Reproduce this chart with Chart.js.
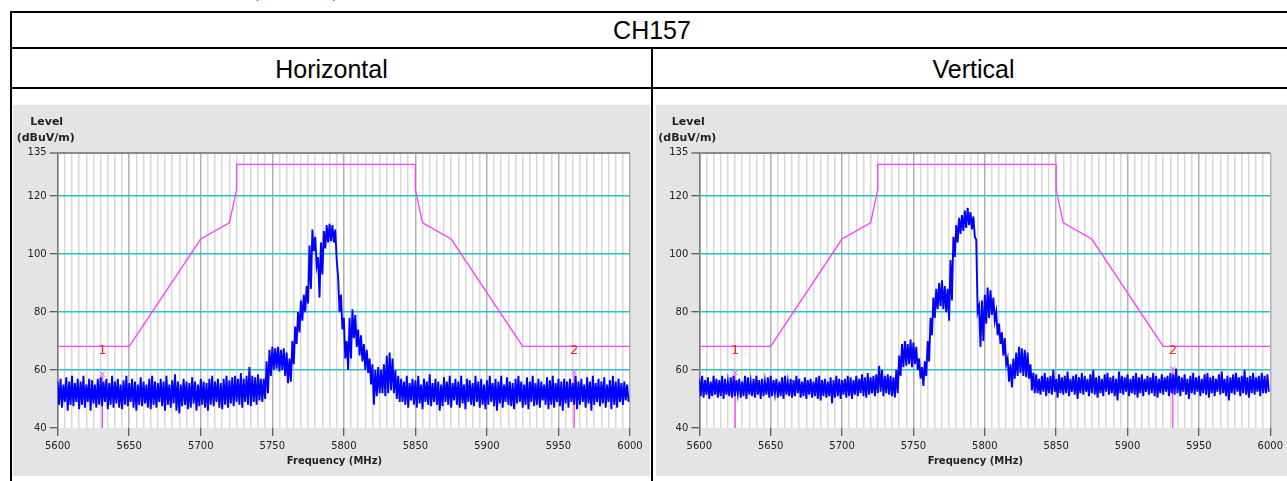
<!DOCTYPE html>
<html><head><meta charset="utf-8">
<script src="https://cdn.jsdelivr.net/npm/chart.js@4.4.1/dist/chart.umd.min.js"></script>
<style>
html,body{margin:0;padding:0;background:#fff;width:1287px;height:481px;overflow:hidden;position:relative;font-family:"Liberation Sans",Arial,sans-serif;}
.abs{position:absolute;}
.hl{position:absolute;background:#000;height:2px;}
.vl{position:absolute;background:#000;width:2px;}
.cap{position:absolute;text-align:center;font-size:25px;color:#000;white-space:nowrap;}
canvas{position:absolute;background:#e4e4e4;}
</style></head><body>
<div class="abs" style="left:253px;top:-17px;font-size:17px;color:#3b6fe0;">(continued)</div>
<div class="hl" style="left:10px;top:11px;width:1290px"></div>
<div class="hl" style="left:10px;top:47px;width:1290px"></div>
<div class="hl" style="left:10px;top:87px;width:1290px"></div>
<div class="vl" style="left:10px;top:11px;height:480px"></div>
<div class="vl" style="left:651px;top:47px;height:440px"></div>
<div class="cap" style="left:12px;top:13px;width:1280px;height:34px;line-height:34px;">CH157</div>
<div class="cap" style="left:12px;top:50px;width:639px;height:38px;line-height:38px;">Horizontal</div>
<div class="cap" style="left:653px;top:50px;width:641px;height:38px;line-height:38px;">Vertical</div>
<canvas id="cH" width="637" height="371" style="left:13px;top:105px;"></canvas>
<canvas id="cV" width="631" height="371" style="left:656px;top:105px;"></canvas>
<script>
// ---------- data ----------
const freqMin = 5600, freqMax = 6000, levelMin = 40, levelMax = 135;
const binStep = 2; // MHz per envelope bin (hi point at f, lo point at f+1)
const yTicks = [40, 60, 80, 100, 120, 135];
const xLabelStep = 50, xGridStep = 5;

const limitFreq  = [5600, 5650, 5700, 5720, 5725, 5725, 5850, 5850, 5855, 5875, 5925, 6000];
const limitLevel = [68.2, 68.2, 105.2, 110.8, 122.2, 131, 131, 122.2, 110.8, 105.2, 68.2, 68.2];

// Horizontal trace envelope
const hFloor1Start = 5600;
const hFloor1Hi = [56,57,55,57.5,56,58,55.5,57,56,58,
  55,57,56.5,55,57,57.5,56,57,55.5,58,
  56,57,55,56.5,58,55.5,57,56,55,57.5,
  56,55,57,58,56,55.5,57,56,58,55,
  56.5,58.5,56,55,57,56,55.5,57.5,56,55,
  57,56,55.5,57,58,56,57,55.5,57,58,
  56.5,57.5,58,57,59,57,58,61,58,57.5,
  58.5,57,57];
const hFloor1Lo = [48,47,49,46,48,47.5,49,46.5,48,47,
  49,46,48.5,47,48,47.5,49,46.5,48,47,
  48.5,47,46.5,48,47.5,49,47,46,48,47.5,
  48.5,47,46.5,48,47,49,47.5,46,48,47,
  48.5,46,45,47.5,48,46.5,47,48.5,46,47.5,
  48,47,46,48,47.5,49,47,46.5,48,47,
  48.5,47.5,49,48,47,49,48,47.5,49,48,
  49.5,49,50];
const hSignalStart = 5746;
const hSignalHi = [63,67,68,67.5,68,67,67.5,66,64,70,
  75,80,84,86,89,103,108.5,106,99,104,
  108,110,110.5,110,108.5,92,86,78,70,78,
  81,79,74,72,69,67,64,62,60,61,
  60,62,65,66,64,60,58];
const hSignalLo = [52,58,60,60.5,59.5,60,58,55.5,56,62,
  69,73,77,80,83,88,101,96,85,93,
  102,104,104.5,104,98,80,74,64,60,64,
  71,68,65,63,60,59,55,48,51,52,
  52,51,52,53,52,50,49];
const hFloor2Start = 5840;
const hFloor2Hi = [57,56,58,55.5,57,56.5,58,55,57,56,
  58.5,55.5,57,56,55,57.5,56,58,55.5,57,
  56,58,55,57,56.5,55.5,58,56,57,55,
  56.5,58,55.5,57,56,58,55,57.5,56,55.5,
  57,58,56,55,57.5,56,58,55.5,57,56,
  55,57.5,56.5,58,55.5,57,56,57,56,57,
  55.5,58,56,57,55,57.5,56,58,55.5,57,
  56,57.5,55,56.5,58,56,57,55.5,56,55];
const hFloor2Lo = [49,48,47,49.5,48,47,48.5,46.5,49,48,
  47.5,49,48,46,47.5,49,48,47,49.5,48,
  47,48.5,46.5,49,48,47.5,49,47,48,46.5,
  48,49,47.5,46,48.5,47,49,48,47.5,46.5,
  48.5,49,47,48,46.5,49,47.5,48,47,49.5,
  48,46.5,48,47,49,47.5,46,48.5,47,49,
  48,46.5,48,49,47,48.5,46,48,49,47.5,
  48.5,47,49,46.5,48,47,49,48,49.5,49];

// Vertical trace envelope
const vFloor1Start = 5600;
const vFloor1Hi = [57,58,56.5,57.5,56,58,57,56.5,58,57,
  56,57.5,58,56.5,57,56,58,57.5,56,57,
  58,56.5,57,56,57.5,58,56.5,57,56,57.5,
  58,56,57,56.5,58,57,56,57.5,56.5,57,
  56,57.5,58,56.5,57,56,57.5,56.5,58,57,
  56.5,57,58,57.5,56.5,58,57,58.5,57.5,59,
  57.5,58,58.5,61.5,60,58,58.5,58,57.5];
const vFloor1Lo = [51,50.5,51.5,50,51,51.5,50.5,51,50,51.5,
  51,50.5,51,52,50.5,51,50,51.5,51,50.5,
  51.5,50,51,51.5,50.5,51,52,50.5,51,50,
  51.5,51,50.5,51,52,50.5,51,50,51.5,50.5,
  51,50,49.5,51,50.5,51,48.5,50.5,51,50,
  51.5,50.5,51,50,51.5,51,52,51,50.5,51.5,
  52,51,52,52.5,51,52,51.5,51,50.5];
const vSignalStart = 5738;
const vSignalHi = [60,65,69,70,69,70.5,69.5,68,64,61,
  63,70,78,85,88,90,91,89,88,98,
  106,110,112.5,113.5,115,116,114.5,113,105,82,
  84,86,88.5,87.5,85,80,76,73,71,64,
  62,64,66,68,67.5,67,66,62,59];
const vSignalLo = [52,58,61,61.5,62,61,62,60,57,54.5,
  58,63,72,78,81,82,81,80,77,84,
  99,104,107,108,109,110,108.5,106,80,68,
  70,76,78,79,77,72,69,65,62,56,
  54,57,58,59,58,57.5,57,53,52];
const vFloor2Start = 5836;
const vFloor2Hi = [58.5,57,58,59,57.5,58,60,57,58.5,57.5,
  58,59.5,57,58,58.5,57.5,59,58,57,58.5,
  60,57.5,58,57,58.5,59,57.5,58,57,59.5,
  58,57.5,58.5,57,58,59,57.5,58.5,57,58,
  57.5,59,58,57,58.5,57.5,58,59,58.5,60.5,
  58,57.5,58.5,57,58,59,57.5,58,57,58.5,
  59,57.5,58,57,58.5,59.5,57,58,57.5,58.5,
  59,57.5,58,60,57.5,58,59,57.5,58,59,
  58,58.5];
const vFloor2Lo = [52,51.5,52.5,51,52,51.5,52.5,50.5,52,51.5,
  52,51,52.5,51.5,50,52,51.5,52.5,51,52,
  51.5,50.5,52,51,52.5,51.5,52,51,49.5,52,
  51.5,52.5,51,52,51.5,50.5,52,51,52.5,51.5,
  52,51,50.5,52,51.5,52.5,51,52,51.5,52,
  51,52.5,51.5,50,52,51.5,52.5,51,52,51.5,
  50.5,52,51,52.5,51.5,52,51,49.5,52,51.5,
  52.5,51,52,51.5,50.5,52,51.5,52.5,51,52,
  52,52.5];

const markerLabels = ['1', '2'];
const hMarkerFreq = [5631.2, 5961], hMarkerLevel = [58.6, 59.2];
const vMarkerFreq = [5625.1, 5931.7], vMarkerLevel = [59.0, 60.4];

// ---------- build ----------
function envelope(start, hi, lo) {
  const pts = [];
  const n = Math.min(hi.length, lo.length);
  for (let i = 0; i < n; i++) {
    const f = start + i * binStep;
    pts.push({x: f, y: hi[i]});
    pts.push({x: f + binStep / 2, y: lo[i]});
  }
  return pts;
}
const hTrace = [].concat(envelope(hFloor1Start, hFloor1Hi, hFloor1Lo),
  envelope(hSignalStart, hSignalHi, hSignalLo), envelope(hFloor2Start, hFloor2Hi, hFloor2Lo));
const vTrace = [].concat(envelope(vFloor1Start, vFloor1Hi, vFloor1Lo),
  envelope(vSignalStart, vSignalHi, vSignalLo), envelope(vFloor2Start, vFloor2Hi, vFloor2Lo));
const limitPts = limitFreq.map((f, i) => ({x: f, y: limitLevel[i]}));
const xGrid = [];
for (let f = freqMin; f <= freqMax; f += xGridStep) xGrid.push(f);

const MAG = '#ff3cff';
const LABEL_LEVEL = 66.6;

function makeChart(id, trace, mFreq, mLevel, yW, padR) {
  const decor = {
    id: 'decor',
    beforeDraw(chart) {
      const {ctx, chartArea: a} = chart;
      ctx.save(); ctx.fillStyle = '#ffffff';
      ctx.fillRect(a.left, a.top, a.right - a.left, a.bottom - a.top);
      ctx.restore();
    },
    beforeDatasetsDraw(chart) {
      const {ctx, chartArea: a} = chart;
      const xs = chart.scales.x, ys = chart.scales.y;
      mFreq.forEach((f, i) => {
        const px = xs.getPixelForValue(f), py = ys.getPixelForValue(mLevel[i]);
        ctx.save();
        ctx.strokeStyle = MAG; ctx.lineWidth = 1.3;
        ctx.beginPath(); ctx.moveTo(px, py + 2); ctx.lineTo(px, a.bottom); ctx.stroke();
        ctx.restore();
      });
    },
    afterDatasetsDraw(chart) {
      const {ctx} = chart;
      const xs = chart.scales.x, ys = chart.scales.y;
      mFreq.forEach((f, i) => {
        const px = xs.getPixelForValue(f), py = ys.getPixelForValue(mLevel[i]);
        ctx.save();
        ctx.strokeStyle = MAG; ctx.lineWidth = 1;
        ctx.beginPath();
        ctx.moveTo(px - 2.5, py - 2.5); ctx.lineTo(px + 2.5, py + 2.5);
        ctx.moveTo(px + 2.5, py - 2.5); ctx.lineTo(px - 2.5, py + 2.5);
        ctx.stroke();
        ctx.fillStyle = '#ff2020'; ctx.font = '13px "DejaVu Sans"';
        ctx.textAlign = 'center'; ctx.textBaseline = 'middle';
        ctx.fillText(markerLabels[i], px, ys.getPixelForValue(LABEL_LEVEL));
        ctx.restore();
      });
    },
    afterDraw(chart) {
      const {ctx, chartArea: a} = chart;
      ctx.save();
      ctx.fillStyle = '#222'; ctx.textAlign = 'center'; ctx.textBaseline = 'middle';
      ctx.font = 'bold 11px "DejaVu Sans"';
      ctx.fillText('Level', a.left - 11, a.top - 31);
      ctx.fillText('(dBuV/m)', a.left - 12, a.top - 15);
      ctx.font = 'bold 10px "DejaVu Sans"';
      ctx.fillText('Frequency (MHz)', (a.left + a.right) / 2 - 9.4, a.bottom + 33.7);
      ctx.restore();
    }
  };
  return new Chart(document.getElementById(id), {
    type: 'scatter',
    data: {datasets: [
      {data: limitPts, showLine: true, borderColor: MAG, borderWidth: 1.3, pointRadius: 0, order: 2},
      {data: trace, showLine: true, borderColor: '#0000ff', borderWidth: 1.9, pointRadius: 0, order: 1}
    ]},
    options: {
      responsive: false, animation: false, devicePixelRatio: 1,
      layout: {padding: {left: 0, top: 47.7, right: padR, bottom: 0}},
      plugins: {legend: {display: false}, tooltip: {enabled: false}},
      scales: {
        x: {
          type: 'linear', min: freqMin, max: freqMax,
          afterBuildTicks: ax => { ax.ticks = xGrid.map(v => ({value: v})); },
          afterFit: ax => { ax.height = 48; },
          ticks: {autoSkip: false, maxRotation: 0, minRotation: 0, padding: 4, color: '#222',
            font: {family: 'DejaVu Sans', size: 10},
            callback: v => (v % xLabelStep === 0 ? String(v) : '')},
          grid: {
            color: c => (c.tick && c.tick.value % xLabelStep === 0 ? '#b0b0b0' : '#d8d8d8'),
            lineWidth: 1.5,
            tickColor: c => (c.tick && c.tick.value % xLabelStep === 0 ? '#333' : 'rgba(0,0,0,0)'),
            tickLength: 8, tickWidth: 1
          },
          border: {display: false}
        },
        y: {
          type: 'linear', min: levelMin, max: levelMax,
          afterBuildTicks: ax => { ax.ticks = yTicks.map(v => ({value: v})); },
          afterFit: ax => { ax.width = yW; },
          ticks: {padding: 3, color: '#222', font: {family: 'DejaVu Sans', size: 10}},
          grid: {
            color: c => (!c.tick ? '#ccc' : c.tick.value === levelMax ? '#8a8a8a' : c.tick.value === levelMin ? 'rgba(0,0,0,0)' : '#22c4cc'),
            lineWidth: c => (c.tick && c.tick.value === levelMax ? 2 : 1.5),
            tickColor: '#333', tickLength: 8, tickWidth: 1
          },
          border: {display: true, color: '#7a7a7a', width: 1.5}
        }
      }
    },
    plugins: [decor]
  });
}
makeChart('cH', hTrace, hMarkerFreq, hMarkerLevel, 44.7, 20);
makeChart('cV', vTrace, vMarkerFreq, vMarkerLevel, 43.3, 13.7);
</script>
</body></html>
